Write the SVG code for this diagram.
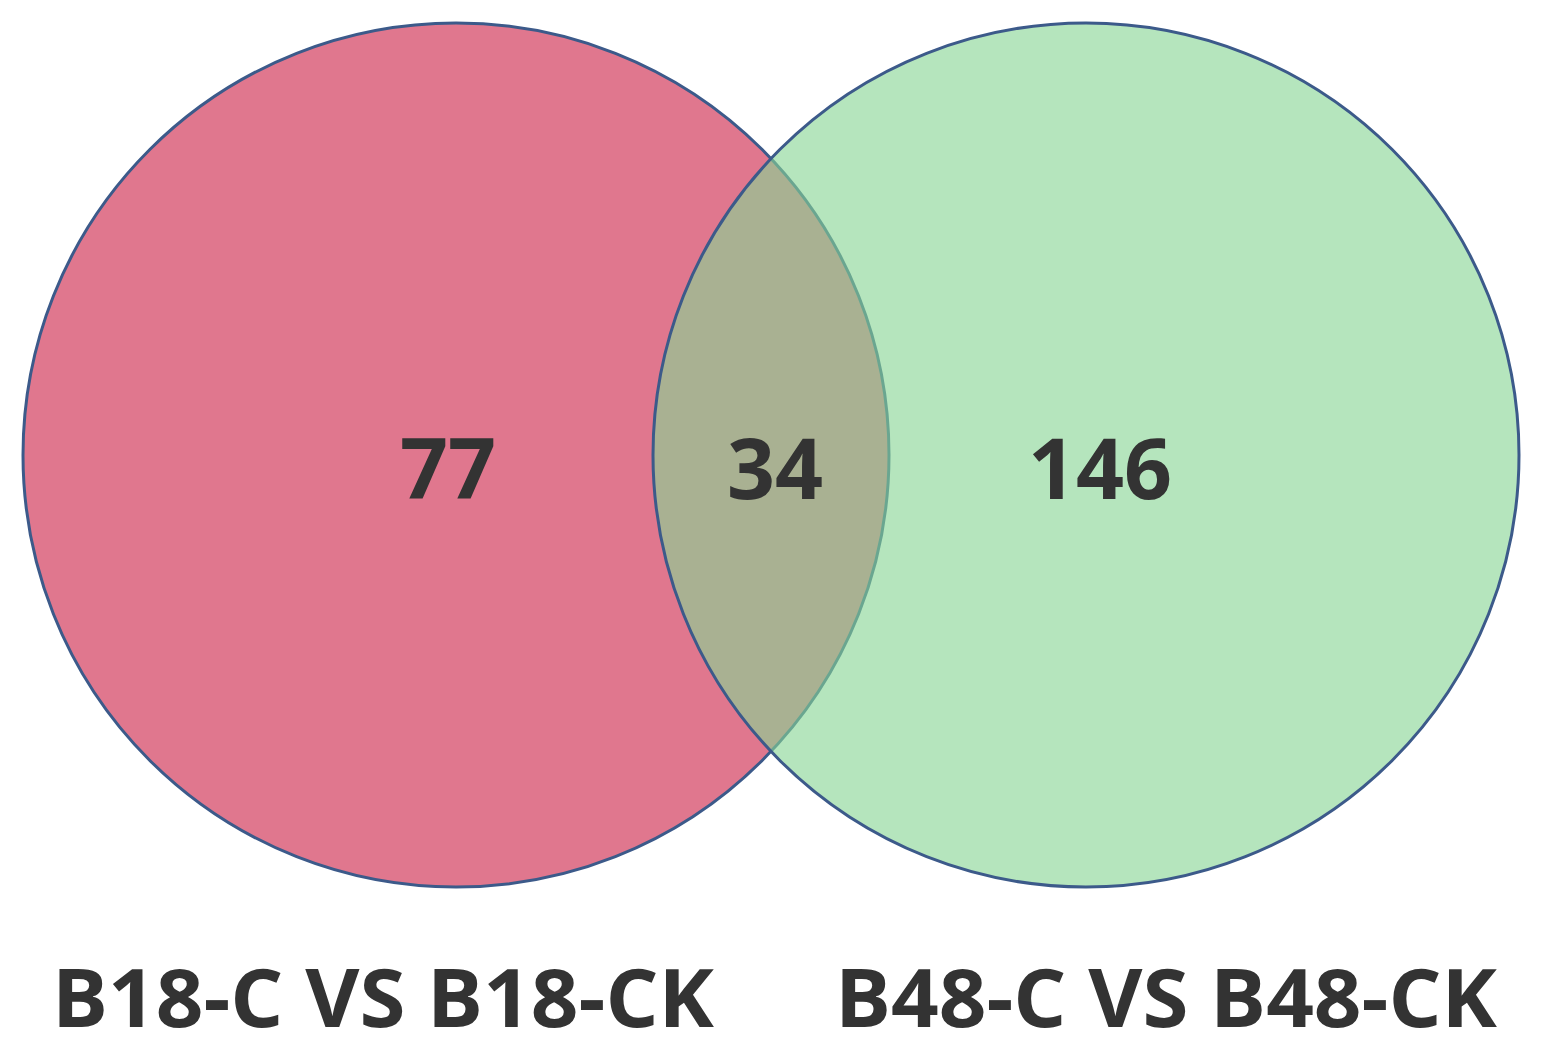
<svg xmlns="http://www.w3.org/2000/svg" width="1542" height="1054" viewBox="0 0 1542 1054">
<style>
.set{stroke:#3C5A8A;stroke-width:3}
.num{font-family:"Open Sans","Noto Sans",sans-serif;font-weight:bold;font-size:84px;fill:#333333;text-anchor:middle}
.lab{font-family:"Open Sans","Noto Sans",sans-serif;font-weight:bold;font-size:80px;fill:#333333;text-anchor:middle}
</style>
<rect width="1542" height="1054" fill="#ffffff"/>
<g id="setA">
<ellipse class="set" cx="456" cy="455" rx="433" ry="432" fill="#E0778E"/>
</g>
<g id="setB">
<ellipse class="set" cx="1086" cy="455" rx="433" ry="432" fill="#87D594" fill-opacity="0.62"/>
</g>
<g id="connectors"></g>
<g id="counts">
<text class="num" x="448" y="499">77</text>
<text class="num" x="775" y="499">34</text>
<text class="num" x="1100" y="499">146</text>
</g>
<g id="labels">
<text class="lab" x="383" y="1027" textLength="662" lengthAdjust="spacingAndGlyphs">B18-C VS B18-CK</text>
<text class="lab" x="1166" y="1027" textLength="662" lengthAdjust="spacingAndGlyphs">B48-C VS B48-CK</text>
</g>
</svg>
